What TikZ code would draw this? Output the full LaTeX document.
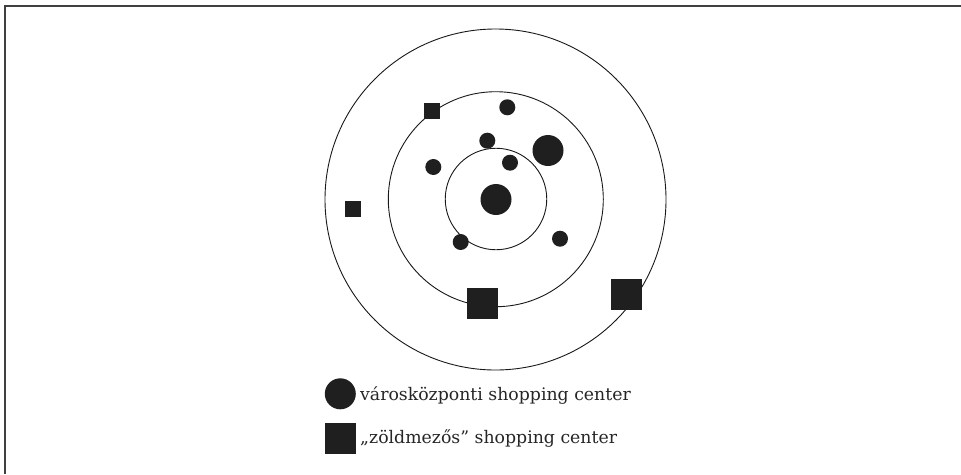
\documentclass[tikz,border=0pt]{standalone}
\usepackage{fontspec}
\setmainfont{DejaVu Serif}
\begin{document}
\begin{tikzpicture}[x=1pt,y=-1pt,
  ring/.style={circle, draw=black!90, line width=0.9pt, inner sep=0pt, minimum size=#1},
  dot/.style={circle, fill=black!88, inner sep=0pt, minimum size=#1},
  sq/.style={rectangle, fill=black!88, inner sep=0pt, minimum size=#1},
  legend/.style={anchor=base west, inner sep=0pt, font=\fontsize{17.3}{19}\selectfont, text=black!85}
]
\useasboundingbox (0,0) rectangle (961,474);
\fill[white] (0,0) rectangle (961,474);
\draw[black!75, line width=1.7pt] (4.8,474) -- (4.8,5.8) -- (961,5.8);

% rings
\node[ring=341pt] (outer) at (495.5,199.5) {};
\node[ring=215pt] (middle) at (495.8,199.2) {};
\node[ring=101.5pt] (inner) at (496,199) {};

% city-centre shopping centres
\node[dot=31pt] (c0) at (496,199.5) {};
\node[dot=31pt] (c1) at (548,150.5) {};
\node[dot=16pt] (c2) at (507.3,107.3) {};
\node[dot=16pt] (c3) at (487.3,140.7) {};
\node[dot=16pt] (c4) at (510,162.7) {};
\node[dot=16pt] (c5) at (433.3,167) {};
\node[dot=16pt] (c6) at (460.7,242) {};
\node[dot=16pt] (c7) at (560,238.7) {};

% greenfield shopping centres
\node[sq=16pt] (g1) at (432.3,110.7) {};
\node[sq=16pt] (g2) at (352.5,208.8) {};
\node[sq=31pt] (g3) at (482.7,303.2) {};
\node[sq=31pt] (g4) at (626,294.3) {};

% legend
\node[dot=31pt] (ldot) at (340.3,393.8) {};
\node[legend] (ltext1) at (360,400) {városközponti shopping center};
\node[sq=31pt] (lsq) at (340.3,438) {};
\node[legend] (ltext2) at (360,443) {„zöldmezős” shopping center};
\end{tikzpicture}
\end{document}
